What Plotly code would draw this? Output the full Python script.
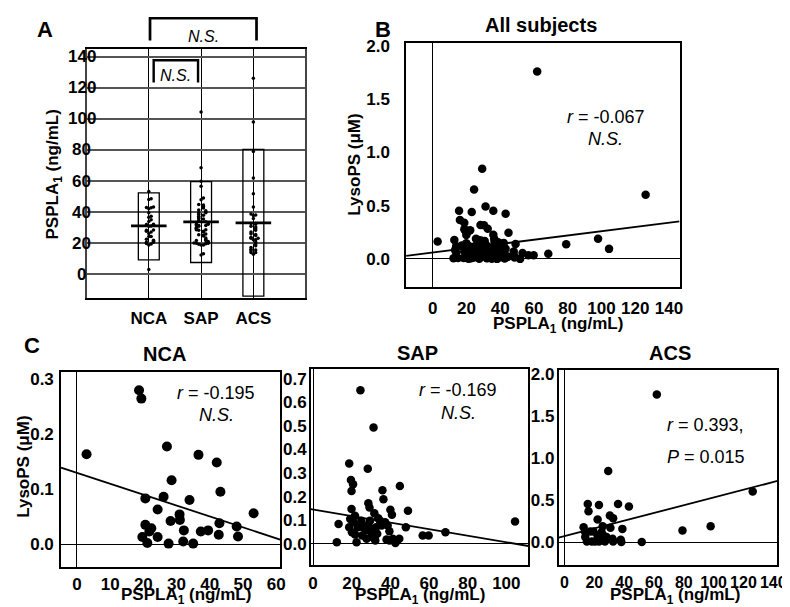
import plotly.graph_objects as go

W, H = 790, 607
FONT = "Liberation Sans"

# ---------------- data ----------------
categories = ["NCA", "SAP", "ACS"]
a_yticks = [0, 20, 40, 60, 80, 100, 120, 140]
box_top = [52.4, 59.6, 80.4]
box_bottom = [9.2, 7.5, -14.2]
group_mean = [31.1, 33.7, 33.0]

nca_x = [18.7, 19.4, 2.9, 27.1, 36.6, 42.1, 28.5, 43.2, 20.6, 26.1, 33.9, 24.3, 30.9, 31.0,
         28.2, 20.6, 22.4, 21.8, 19.7, 24.3, 32.2, 37.3, 39.5, 42.9, 42.7, 48.1, 48.5, 53.2,
         21.2, 27.6, 32.0, 35.0]
nca_y = [0.279, 0.264, 0.163, 0.177, 0.162, 0.148, 0.116, 0.095, 0.083, 0.086, 0.080, 0.063,
         0.054, 0.044, 0.042, 0.035, 0.029, 0.023, 0.013, 0.013, 0.025, 0.023, 0.025, 0.038,
         0.017, 0.032, 0.014, 0.056, 0.002, 0.001, 0.005, 0.001]

sap_x = [24.5, 31.3, 18.7, 28.3, 19.6, 20.7, 19.9, 44.9, 35.9, 36.4, 28.6, 29.2, 19.9, 40.0,
         49.1, 40.8, 31.7, 13.2, 21.7, 19.2, 21.0, 18.7, 20.1, 21.7, 22.5, 12.3, 25.0, 25.9,
         25.4, 27.2, 28.6, 29.5, 30.1, 30.8, 31.9, 32.6, 33.2, 33.7, 34.6, 35.5, 32.2, 27.7,
         37.3, 38.6, 39.5, 38.0, 39.5, 41.3, 42.6, 43.5, 44.6, 48.0, 56.7, 59.8, 68.5, 104.5,
         23.2, 31.3]
sap_y = [0.651, 0.493, 0.340, 0.318, 0.270, 0.252, 0.224, 0.245, 0.227, 0.189, 0.172, 0.154,
         0.147, 0.144, 0.140, 0.123, 0.129, 0.084, 0.119, 0.105, 0.091, 0.070, 0.049, 0.039,
         0.006, 0.006, 0.098, 0.070, 0.035, 0.056, 0.080, 0.098, 0.049, 0.028, 0.021, 0.070,
         0.042, 0.108, 0.098, 0.077, 0.014, 0.021, 0.091, 0.077, 0.053, 0.018, 0.014, 0.021,
         0.003, 0.014, 0.021, 0.070, 0.035, 0.035, 0.049, 0.094, 0.070, 0.063]

acs_x = [61.9, 29.3, 126.2, 15.6, 23.1, 35.9, 43.2, 16.1, 30.4, 32.6, 22.2, 98.0, 79.1, 12.8,
         25.6, 30.8, 38.8, 13.9, 17.2, 19.4, 13.9, 15.0, 18.3, 20.5, 23.1, 24.9, 26.0, 27.1,
         23.8, 32.2, 32.6, 37.7, 38.1, 51.8, 28.2, 22.2]
acs_y = [1.76, 0.846, 0.602, 0.453, 0.441, 0.453, 0.425, 0.366, 0.315, 0.283, 0.268, 0.189,
         0.138, 0.177, 0.189, 0.169, 0.157, 0.118, 0.126, 0.126, 0.059, 0.008, 0.008, 0.008,
         0.008, 0.118, 0.079, 0.008, 0.079, 0.039, 0.008, 0.028, 0.0, 0.0, 0.059, 0.079]

all_x = nca_x + sap_x + acs_x
all_y = nca_y + sap_y + acs_y

# regression lines (slope, intercept)
reg = {
    "B": (0.0020, 0.060),
    "NCA": (-0.00198, 0.1295),
    "SAP": (-0.00139, 0.1453),
    "ACS": (0.00461, 0.070),
}

# ---------------- layout helpers ----------------
dom = {  # left, right, top, bottom in px
    "A": (78.5, 299.3, 35, 286.7),
    "B": (401.7, 679, 29.3, 275.7),
    "NCA": (51.7, 274, 361.7, 558.3),
    "SAP": (305, 525.7, 358.3, 556.7),
    "ACS": (556.3, 778.3, 359.3, 556.7),
}
xr = {"A": [-0.174, 3.99], "B": [-15.8, 146.3], "NCA": [-4.8, 61.2],
      "SAP": [-1.2, 111.4], "ACS": [-4.0, 142.8]}
yr = {"A": [-15.3, 145.3], "B": [-0.264, 2.028], "NCA": [-0.041, 0.312],
      "SAP": [-0.091, 0.742], "ACS": [-0.276, 2.054]}
axid = {"A": "", "B": "2", "NCA": "3", "SAP": "4", "ACS": "5"}


def px(x):
    return x / W


def py(y):
    return 1 - y / H


def swarm(vals, step=1.6, d=0.045):
    order = sorted(range(len(vals)), key=lambda i: vals[i])
    offs = [0.0] * len(vals)
    placed = []
    for i in order:
        k = sum(1 for v in placed if abs(v - vals[i]) < step)
        placed.append(vals[i])
        offs[i] = ((k + 1) // 2) * d * (1 if k % 2 else -1)
    return offs


fig = go.Figure()

# ---------------- panel A ----------------
for ci, vals in enumerate([nca_x, sap_x, acs_x]):
    offs = swarm(vals)
    fig.add_trace(go.Scatter(x=[ci + 1 + o for o in offs], y=vals, mode="markers",
                             marker=dict(color="black", size=3.5), xaxis="x", yaxis="y",
                             hoverinfo="skip"))

shapes = []
for ci in range(3):
    c = ci + 1
    shapes.append(dict(type="rect", xref="x", yref="y", x0=c - 0.2, x1=c + 0.2,
                       y0=box_bottom[ci], y1=box_top[ci], line=dict(color="black", width=1.3)))
    shapes.append(dict(type="line", xref="x", yref="y", x0=c - 0.34, x1=c + 0.34,
                       y0=group_mean[ci], y1=group_mean[ci], line=dict(color="black", width=2.7)))

# brackets
shapes.append(dict(type="path", xref="paper", yref="paper",
                   path=f"M {px(142)},{py(26.7)} L {px(142)},{py(4.3)} L {px(250)},{py(4.3)} L {px(250)},{py(26.7)}",
                   line=dict(color="black", width=2.7)))
shapes.append(dict(type="path", xref="paper", yref="paper",
                   path=f"M {px(145.7)},{py(69.3)} L {px(145.7)},{py(46.7)} L {px(190.7)},{py(46.7)} L {px(190.7)},{py(69.3)}",
                   line=dict(color="black", width=2.4)))

# ---------------- panels B and C ----------------
panels = {
    "B": (all_x, all_y, 8.5),
    "NCA": (nca_x, nca_y, 10),
    "SAP": (sap_x, sap_y, 8.5),
    "ACS": (acs_x, acs_y, 8.5),
}
for key, (xs, ys, msize) in panels.items():
    a = axid[key]
    fig.add_trace(go.Scatter(x=xs, y=ys, mode="markers", marker=dict(color="black", size=msize),
                             xaxis="x" + a, yaxis="y" + a, hoverinfo="skip"))
    s, b = reg[key]
    lx = xr[key]
    fig.add_trace(go.Scatter(x=lx, y=[b + s * v for v in lx], mode="lines",
                             line=dict(color="black", width=1.8), xaxis="x" + a, yaxis="y" + a,
                             hoverinfo="skip"))


def tfont(size=17):
    return dict(family=FONT, size=size, color="black", weight="bold")


def axis_common(key, which):
    l, r, t, b = dom[key]
    d = [px(l), px(r)] if which == "x" else [py(b), py(t)]
    return dict(domain=d, showline=True, mirror=True, linecolor="black", linewidth=1.5,
                ticks="", tickangle=0, tickfont=tfont(), showgrid=False,
                range=(xr if which == "x" else yr)[key], fixedrange=True,
                anchor=("y" if which == "x" else "x") + axid[key])


lay = {}
# A
ax = axis_common("A", "x")
ax.update(tickvals=[1, 2, 3], ticktext=categories, showgrid=True, gridcolor="black",
          gridwidth=1, zeroline=False, ticklabelstandoff=4)
lay["xaxis"] = ax
ay = axis_common("A", "y")
ay.update(tickvals=a_yticks, showgrid=True, gridcolor="#555555", gridwidth=1.5,
          showticklabels=False, zeroline=False, linecolor="#444444")
lay["yaxis"] = ay

xt = {"B": list(range(0, 141, 20)), "NCA": list(range(0, 61, 10)),
      "SAP": list(range(0, 101, 20)), "ACS": list(range(0, 141, 20))}
yt = {"B": [0, 0.5, 1.0, 1.5, 2.0], "NCA": [0, 0.1, 0.2, 0.3],
      "SAP": [0, 0.1, 0.2, 0.3, 0.4, 0.5, 0.6, 0.7], "ACS": [0, 0.5, 1.0, 1.5, 2.0]}
xstand = {"B": 5, "NCA": 1, "SAP": 2, "ACS": 2}
ystand = {"B": 11, "NCA": 2, "SAP": -1, "ACS": -1}
xsize = {"B": 17, "NCA": 17, "SAP": 17, "ACS": 16}
for key in ["B", "NCA", "SAP", "ACS"]:
    a = axid[key]
    ax = axis_common(key, "x")
    ax.update(tickvals=xt[key], zeroline=True, zerolinecolor="black", zerolinewidth=1,
              ticklabelstandoff=xstand[key], tickfont=tfont(xsize[key]))
    ay = axis_common(key, "y")
    ay.update(tickvals=yt[key], tickformat=".1f", zeroline=True, zerolinecolor="black",
              zerolinewidth=1, ticklabelstandoff=ystand[key])
    lay["xaxis" + a] = ax
    lay["yaxis" + a] = ay

# ---------------- annotations ----------------
ann = []


def text(x, y, s, size=17, bold=True, italic=False, angle=0, xanchor="center"):
    if italic:
        s = f"<i>{s}</i>"
    ann.append(dict(x=px(x), y=py(y), xref="paper", yref="paper", text=s, showarrow=False,
                    xanchor=xanchor, yanchor="middle", textangle=angle,
                    font=dict(family=FONT, size=size, color="black",
                              weight="bold" if bold else "normal")))


# panel A y tick labels, centered
for v in a_yticks:
    ann.append(dict(x=px(73), y=v, xref="paper", yref="y", text=str(v), showarrow=False,
                    xanchor="center", yanchor="middle",
                    font=dict(family=FONT, size=17, color="black", weight="bold")))

text(35, 16, "A", size=22)
text(378, 16, "B", size=22)
text(22, 335, "C", size=22)
text(196, 23, "N.S.", size=16, bold=False, italic=True)
text(168, 62, "N.S.", size=16, bold=False, italic=True)
text(45, 161.7, "PSPLA<sub>1</sub> (ng/mL)", size=17, angle=-90)

text(539, 11, "All subjects", size=20)
text(556, 314, "PSPLA<sub>1</sub> (ng/mL)", size=17)
text(349, 152, "LysoPS (μM)", size=17, angle=-90)
text(604, 104, "<i>r</i> = -0.067", size=18, bold=False)
text(604, 126, "N.S.", size=18, bold=False, italic=True)

text(157, 343, "NCA", size=20)
text(413, 342, "SAP", size=20)
text(669, 342, "ACS", size=20)
text(178, 588, "PSPLA<sub>1</sub> (ng/mL)", size=17)
text(416, 588, "PSPLA<sub>1</sub> (ng/mL)", size=17)
text(674, 588, "PSPLA<sub>1</sub> (ng/mL)", size=17)
text(13.5, 457, "LysoPS (μM)", size=17, angle=-90)

text(209, 383, "<i>r</i> = -0.195", size=18, bold=False)
text(209, 405, "N.S.", size=18, bold=False, italic=True)
text(454, 380, "<i>r</i> = -0.169", size=18, bold=False)
text(455, 403, "N.S.", size=18, bold=False, italic=True)
text(705, 415, "<i>r</i> = 0.393,", size=18, bold=False)
text(706, 447, "<i>P</i> = 0.015", size=18, bold=False)

fig.update_layout(width=W, height=H, margin=dict(l=0, r=0, t=0, b=0),
                  plot_bgcolor="white", paper_bgcolor="white", showlegend=False,
                  font=dict(family=FONT, color="black"), shapes=shapes, annotations=ann,
                  **lay)

fig.write_html("out.html")
